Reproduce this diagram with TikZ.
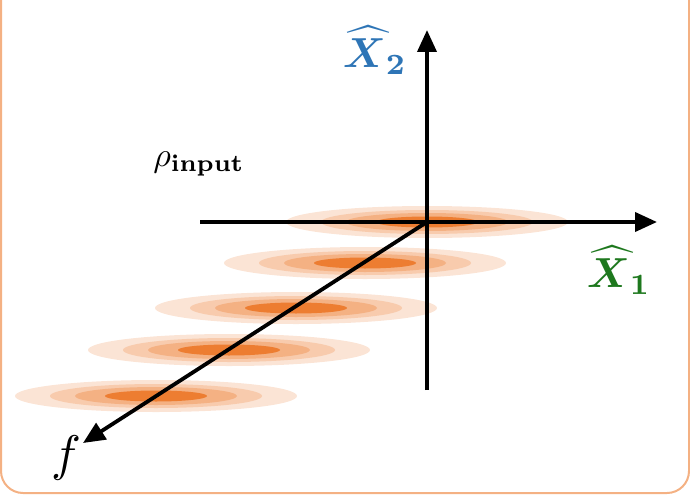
\documentclass[tikz,border=0pt]{standalone}
\usepackage{amsmath,amssymb}
\usepackage{graphicx}
\usepackage{xcolor}
\usepackage{tikz}
\usetikzlibrary{arrows.meta,positioning,calc}
\definecolor{frameorange}{HTML}{F4B183}
\definecolor{glow0}{HTML}{FBE4D5}
\definecolor{glow1}{HTML}{F8CBAD}
\definecolor{glow2}{HTML}{F4B183}
\definecolor{glow3}{HTML}{ED7D31}
\definecolor{quadblue}{HTML}{2E75B6}
\definecolor{quadgreen}{HTML}{1E781E}
\newcommand{\Xhat}{\boldsymbol{\widehat{X}}}
\tikzset{
  axis/.style={-{Triangle[length=22pt,width=19pt]}, line width=3.8pt, black},
  lbl/.style={inner sep=0pt},
  frame/.style={draw=frameorange, line width=2pt, rounded corners=22pt}
}

\begin{document}
\begin{tikzpicture}[x=1pt,y=-1pt]
  \useasboundingbox (0,0) rectangle (690,495);
  \draw[frame] (1,-60) rectangle (689,493);

  \coordinate (origin) at (427,222);
  \coordinate (x1tip) at (657,222);
  \coordinate (x1tail) at (200,222);
  \coordinate (x2tip) at (427,30);
  \coordinate (x2tail) at (427,390);
  \coordinate (ftip) at (83,443);

  % squeezed states along f
  \foreach \cx/\cy in {427/222, 365/263, 296/308, 229/350, 156/396} {
    \fill[glow0] (\cx,\cy) ellipse [x radius=141pt, y radius=16pt];
    \fill[glow1] (\cx,\cy) ellipse [x radius=106pt, y radius=12pt];
    \fill[glow2] (\cx,\cy) ellipse [x radius=81pt, y radius=9pt];
    \fill[glow3] (\cx,\cy) ellipse [x radius=51pt, y radius=5.5pt];
  }

  % axes
  \draw[axis] (x1tail) -- (x1tip);
  \draw[axis] (x2tail) -- (x2tip);
  \draw[axis] (origin) -- (ftip);

  \node[lbl, text=quadblue] (x2lbl) at (375,50) {\scalebox{4.2}{$\Xhat_{\mathbf{2}}$}};
  \node[lbl, text=quadgreen] (x1lbl) at (619,270) {\scalebox{4.2}{$\Xhat_{\mathbf{1}}$}};
  \node[lbl] (rho) at (199,164) {\scalebox{3.4}{$\rho_{\mathbf{input}}$}};
  \node[lbl] (flbl) at (66,458) {\scalebox{5}{$f$}};
\end{tikzpicture}
\end{document}
